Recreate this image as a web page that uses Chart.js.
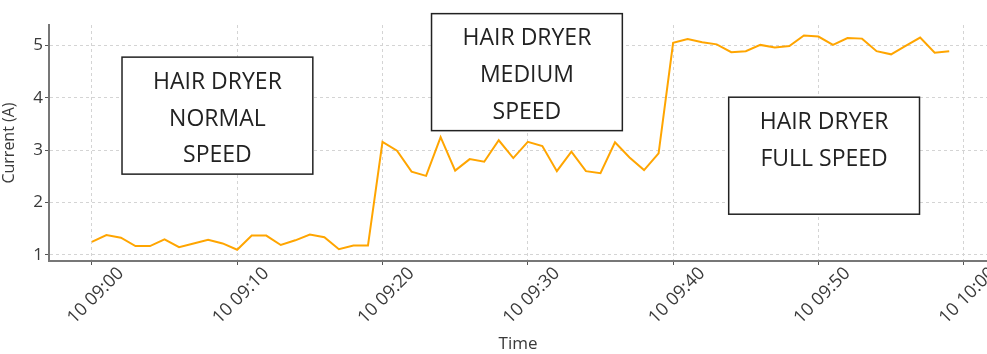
<!DOCTYPE html>
<html lang="en">
<head>
    <meta charset="UTF-8">
    <title>Hair dryer current</title>
    <script src="https://cdn.jsdelivr.net/npm/chart.js@4.4.1/dist/chart.umd.min.js"></script>
    <style type="text/css">
        body{ margin:0; background:#fff; }
        #wrap{ width:987px; height:354px; position:relative; }
    </style>
</head>
<body>
<div id="wrap"><canvas id="lineChart"></canvas></div>
<script type="text/javascript">
    // minutes after 09:00 (day 10)
    var minutes = [0,1,2,3,4,5,6,7,8,9,10,11,12,13,14,15,16,17,18,19,
                   20,21,22,23,24,25,26,27,28,29,30,31,32,33,34,35,36,37,38,39,
                   40,41,42,43,44,45,46,47,48,49,50,51,52,53,54,55,56,57,58,59];
    // current in A
    var current = [1.25,1.38,1.33,1.17,1.17,1.30,1.15,1.22,1.29,1.22,
                   1.10,1.37,1.37,1.19,1.28,1.39,1.34,1.11,1.18,1.18,
                   3.16,2.99,2.59,2.51,3.25,2.61,2.83,2.78,3.19,2.85,
                   3.16,3.08,2.60,2.97,2.60,2.56,3.15,2.86,2.62,2.94,
                   5.05,5.12,5.06,5.02,4.87,4.89,5.01,4.96,4.99,5.19,
                   5.17,5.01,5.14,5.13,4.89,4.83,4.99,5.15,4.86,4.89];
    var xTickValues = [0,10,20,30,40,50,60];
    var xTickLabels = ["10 09:00","10 09:10","10 09:20","10 09:30","10 09:40","10 09:50","10 10:00"];
    var yTickValues = [1,2,3,4,5];

    // text boxes, anchored at a (minute, current) point = box centre
    var notes = [
        { lines: ["HAIR DRYER","NORMAL","SPEED"], x: 8.64, y: 3.66 },
        { lines: ["HAIR DRYER","MEDIUM","SPEED"], x: 29.94, y: 4.49 },
        { lines: ["HAIR DRYER","FULL SPEED",""], x: 50.39, y: 2.895 }
    ];

    var noteBoxes = {
        id: 'noteBoxes',
        afterDatasetsDraw: function(chart) {
            var ctx = chart.ctx;
            var xs = chart.scales.x, ys = chart.scales.y;
            ctx.save();
            ctx.font = '23px "Open Sans"';
            ctx.textAlign = 'center';
            ctx.textBaseline = 'middle';
            notes.forEach(function(n) {
                var cx = xs.getPixelForValue(n.x);
                var cy = ys.getPixelForValue(n.y);
                var w = 0;
                n.lines.forEach(function(l){ w = Math.max(w, ctx.measureText(l).width); });
                var bw = w + 62, bh = 117;
                ctx.fillStyle = '#fff';
                ctx.fillRect(cx - bw/2, cy - bh/2, bw, bh);
                ctx.strokeStyle = '#222';
                ctx.lineWidth = 1.5;
                ctx.strokeRect(cx - bw/2, cy - bh/2, bw, bh);
                ctx.fillStyle = '#222';
                n.lines.forEach(function(l, i) {
                    ctx.fillText(l, cx, cy + 3.5 + (i - 1) * 36.7);
                });
            });
            ctx.restore();
        }
    };

    var points = minutes.map(function(m, i){ return { x: m, y: current[i] }; });

    var ctx = document.getElementById("lineChart");
    var myChart = new Chart(ctx, {
        type: 'line',
        data: {
            datasets: [{
                data: points,
                borderColor: '#FFA500',
                borderWidth: 2,
                pointRadius: 0,
                tension: 0,
                fill: false
            }]
        },
        options: {
            responsive: true,
            maintainAspectRatio: false,
            animation: false,
            events: [],
            layout: { padding: { top: 25, right: 0, left: 0, bottom: 0 }, autoPadding: false },
            plugins: { legend: { display: false }, tooltip: { enabled: false } },
            scales: {
                x: {
                    type: 'linear',
                    min: -2.95,
                    max: 61.6,
                    afterFit: function(s){ s.height = 93; },
                    afterBuildTicks: function(s){ s.ticks = xTickValues.map(function(v){ return { value: v }; }); },
                    ticks: {
                        minRotation: 45, maxRotation: 45,
                        labelOffset: 29,
                        padding: -2,
                        color: '#3a3a3a',
                        font: { family: 'Open Sans', size: 18 },
                        callback: function(v, i){ return xTickLabels[i]; }
                    },
                    grid: {
                        color: '#d4d4d4', lineWidth: 1,
                        tickBorderDash: [], tickColor: '#555', tickLength: 4
                    },
                    border: { color: '#777', width: 2, dash: [3, 3] },
                    title: { display: true, text: 'Time', color: '#3a3a3a',
                             font: { family: 'Open Sans', size: 17 }, padding: { top: 0, bottom: 0 } }
                },
                y: {
                    min: 0.885,
                    max: 5.39,
                    afterFit: function(s){ s.width = 49; },
                    afterBuildTicks: function(s){ s.ticks = yTickValues.map(function(v){ return { value: v }; }); },
                    ticks: {
                        padding: 2,
                        color: '#3a3a3a',
                        font: { family: 'Open Sans', size: 17 }
                    },
                    grid: {
                        color: '#d4d4d4', lineWidth: 1,
                        tickBorderDash: [], tickColor: '#555', tickLength: 4
                    },
                    border: { color: '#777', width: 2, dash: [3, 3] },
                    title: { display: true, text: 'Current (A)', color: '#3a3a3a',
                             font: { family: 'Open Sans', size: 16 }, padding: { top: 0, bottom: 0 } }
                }
            }
        },
        plugins: [noteBoxes]
    });
</script>
</body>
</html>
